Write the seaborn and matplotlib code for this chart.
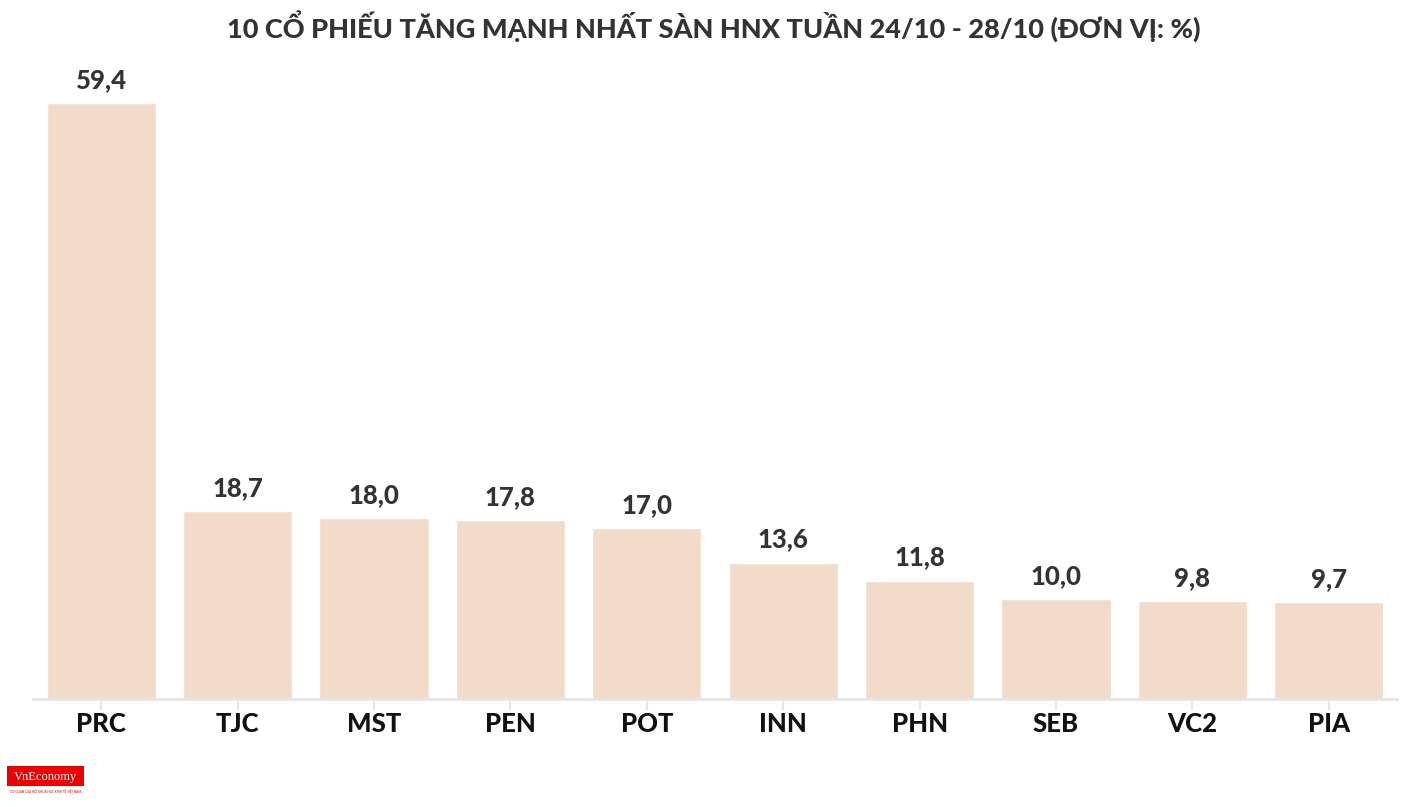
import matplotlib
matplotlib.use("Agg")
import matplotlib.pyplot as plt
import seaborn as sns
import pandas as pd
from matplotlib.patches import Rectangle

tickers = ["PRC", "TJC", "MST", "PEN", "POT", "INN", "PHN", "SEB", "VC2", "PIA"]
values = [59.4, 18.7, 18.0, 17.8, 17.0, 13.6, 11.8, 10.0, 9.8, 9.7]
title = "10 CỔ PHIẾU TĂNG MẠNH NHẤT SÀN HNX TUẦN 24/10 - 28/10 (ĐƠN VỊ: %)"

sns.set_theme(style="white")
plt.rcParams["font.family"] = ["Lato", "DejaVu Sans"]

df = pd.DataFrame({"ticker": tickers, "value": values})

W, H = 1428, 807
fig = plt.figure(figsize=(W / 100, H / 100), dpi=100)
ax_left, ax_right = 33, 1397
ax_bottom, ax_top = 699, 60
ax = fig.add_axes([ax_left / W, 1 - ax_bottom / H, (ax_right - ax_left) / W, (ax_bottom - ax_top) / H])

bar_color = "#F2DBC9"
sns.barplot(data=df, x="ticker", y="value", color=bar_color, saturation=1, width=0.8, ax=ax)

px_per_unit = (699 - 103) / 59.4
ax.set_ylim(0, (ax_bottom - ax_top) / px_per_unit)
ax.set_xlim(-0.5, len(tickers) - 0.5)

for i, v in enumerate(values):
    ax.text(i, v + 1.1, f"{v:.1f}".replace(".", ","), ha="center", va="bottom",
            fontsize=18.5, fontweight="black", color="#333333")

ax.set_xlabel("")
ax.set_ylabel("")
ax.set_yticks([])
for s in ["top", "right", "left"]:
    ax.spines[s].set_visible(False)
ax.spines["bottom"].set_color("#e6e6e6")
ax.spines["bottom"].set_linewidth(2)
ax.tick_params(axis="x", length=8, width=1.5, color="#e6e6e6", pad=1,
               labelsize=18.5, labelcolor="#111111", bottom=True)
for lbl in ax.get_xticklabels():
    lbl.set_fontweight("black")

fig.text(0.5, 1 - 27 / H, title, ha="center", va="center", fontsize=19.5,
         fontweight="black", color="#333333")

# logo
fig.patches.append(Rectangle((7 / W, 1 - 786 / H), 77 / W, 20 / H, transform=fig.transFigure,
                             facecolor="#ee0000", edgecolor="none"))
fig.text(45 / W, 1 - 777 / H, "VnEconomy", ha="center", va="center", fontsize=9,
         color="white", family="Liberation Serif")
fig.text(45 / W, 1 - 791 / H, "CƠ QUAN CỦA HỘI KHOA HỌC KINH TẾ VIỆT NAM", ha="center",
         va="center", fontsize=2.2, color="#cc0000")

fig.savefig("out.png", dpi=100)
